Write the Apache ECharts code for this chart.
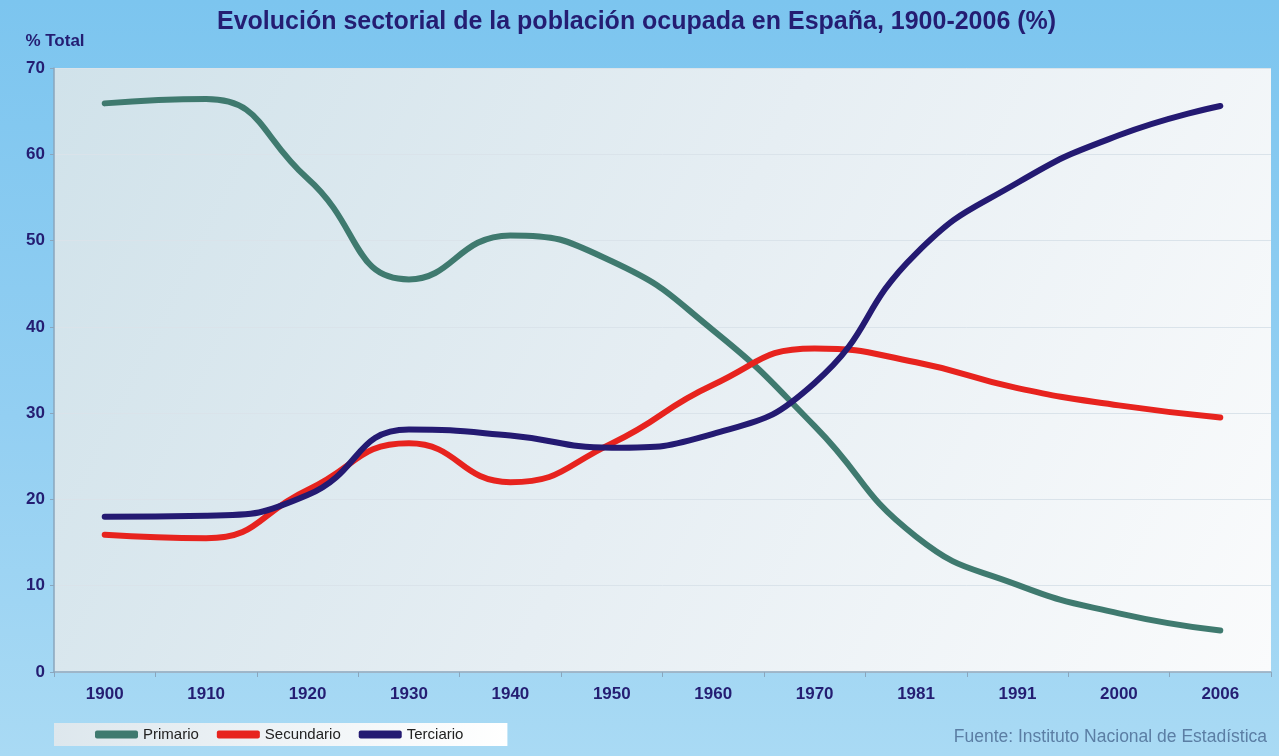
<!DOCTYPE html>
<html>
<head>
<meta charset="utf-8">
<title>Evolución sectorial de la población ocupada en España</title>
<script src="https://cdn.jsdelivr.net/npm/echarts@6/dist/echarts.min.js"></script>
<style>
  html, body { margin: 0; padding: 0; width: 100%; height: 100%; }
  body { background: linear-gradient(180deg, #7cc5ef 0%, #93cff2 55%, #a9daf4 100%); }
  #main { width: 1279px; height: 756px; }
</style>
</head>
<body>
<div id="main"></div>
<script>
// datos
var years = ['1900', '1910', '1920', '1930', '1940', '1950', '1960', '1970', '1981', '1991', '2000', '2006'];
var primario = [65.9, 66.4, 57.2, 45.5, 50.6, 47.6, 39.6, 28.5, 15.7, 10.1, 6.8, 4.8];
var secundario = [15.9, 15.5, 21.1, 26.5, 22.0, 26.5, 33.3, 37.5, 35.9, 32.9, 30.9, 29.5];
var terciario = [18.0, 18.1, 20.5, 28.1, 27.4, 26.0, 27.6, 33.5, 48.5, 56.7, 62.2, 65.6];

var navy = '#241d72';
var chart = echarts.init(document.getElementById('main'));

function serie(name, data, color) {
  return {
    name: name,
    type: 'line',
    data: data,
    smooth: 0.5,
    symbol: 'none',
    lineStyle: { width: 6, color: color, cap: 'round' },
    itemStyle: { color: color }
  };
}

var option = {
  backgroundColor: 'transparent',
  textStyle: { fontFamily: 'Liberation Sans, Arial, sans-serif' },
  title: [{
    text: 'Evolución sectorial de la población ocupada en España, 1900-2006 (%)',
    left: 212,
    top: 5,
    textStyle: { color: navy, fontSize: 25, fontWeight: 'bold' }
  }, {
    text: 'Fuente: Instituto Nacional de Estadística',
    right: 7,
    top: 723,
    textStyle: { color: '#5b7ea4', fontSize: 17.5, fontWeight: 'normal' }
  }],
  grid: {
    left: 54, right: 8, top: 68, bottom: 84,
    show: true,
    borderWidth: 0,
    backgroundColor: {
      type: 'linear', x: 0, y: 0, x2: 1, y2: 1,
      colorStops: [
        { offset: 0, color: '#d0e2ea' },
        { offset: 0.5, color: '#e6eef3' },
        { offset: 1, color: '#fafbfc' }
      ]
    }
  },
  legend: {
    left: 54,
    top: 723,
    padding: [4, 44, 4, 41],
    itemGap: 18,
    itemWidth: 43,
    itemHeight: 8,
    icon: 'roundRect',
    backgroundColor: {
      type: 'linear', x: 0, y: 0, x2: 1, y2: 0,
      colorStops: [
        { offset: 0, color: '#dde7ed' },
        { offset: 1, color: '#ffffff' }
      ]
    },
    textStyle: { color: '#222', fontSize: 15 },
    data: ['Primario', 'Secundario', 'Terciario']
  },
  xAxis: {
    type: 'category',
    data: years,
    boundaryGap: true,
    axisLine: { lineStyle: { color: '#8aa6bd', width: 1.5 } },
    axisTick: { show: true, length: 5, lineStyle: { color: '#8aa6bd' } },
    axisLabel: { color: navy, fontSize: 17, fontWeight: 'bold', margin: 14 },
    splitLine: { show: false }
  },
  yAxis: {
    type: 'value',
    min: 0,
    max: 70,
    interval: 10,
    name: '% Total',
    nameGap: 18,
    nameTextStyle: { color: navy, fontSize: 17, fontWeight: 'bold', align: 'center', padding: [0, 0, 0, 2] },
    axisLine: { show: true, lineStyle: { color: '#8aa6bd', width: 1.5 } },
    axisTick: { show: true, length: 4, lineStyle: { color: '#8aa6bd' } },
    axisLabel: { color: navy, fontSize: 17, fontWeight: 'bold', margin: 9 },
    splitLine: { show: true, lineStyle: { color: '#dae3ea', width: 1 } }
  },
  series: [
    serie('Primario', primario, '#3f7a6f'),
    serie('Secundario', secundario, '#e7231e'),
    serie('Terciario', terciario, '#241a72')
  ]
};
chart.setOption(option);

window.addEventListener('resize', function () {
  chart.resize();
});
</script>
</body>
</html>
